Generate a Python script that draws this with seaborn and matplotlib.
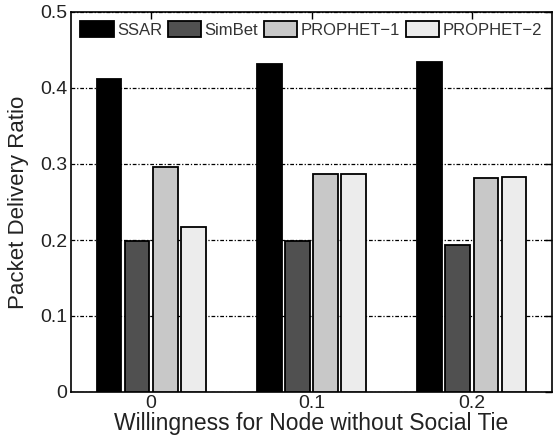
import matplotlib
matplotlib.use("Agg")
import matplotlib.pyplot as plt
import seaborn as sns
import pandas as pd

categories = ["0", "0.1", "0.2"]
methods = ["SSAR", "SimBet", "PROPHET\u22121", "PROPHET\u22122"]
ssar = [0.412, 0.432, 0.434]
simbet = [0.199, 0.199, 0.193]
prophet1 = [0.296, 0.287, 0.282]
prophet2 = [0.217, 0.287, 0.283]
yticks = [0, 0.1, 0.2, 0.3, 0.4, 0.5]
ytick_labels = ["0", "0.1", "0.2", "0.3", "0.4", "0.5"]

rows = []
for m, vals in zip(methods, [ssar, simbet, prophet1, prophet2]):
    for c, v in zip(categories, vals):
        rows.append({"Willingness": c, "Method": m, "Ratio": v})
df = pd.DataFrame(rows)

sns.set_style("white")
plt.rcParams["font.family"] = ["Liberation Sans", "DejaVu Sans"]

palette = ["#000000", "#505050", "#c8c8c8", "#ececec"]

fig = plt.figure(figsize=(5.53, 4.43), dpi=100)
ax = fig.add_axes([71 / 553, 1 - 392 / 443, (552 - 71) / 553, (392 - 12) / 443])

sns.barplot(data=df, x="Willingness", y="Ratio", hue="Method", order=categories,
            hue_order=methods, palette=palette, width=0.7, gap=0.12,
            edgecolor="black", linewidth=1.3, saturation=1, ax=ax, zorder=3)

ax.set_xlim(-0.5, 2.5)
ax.set_ylim(0, 0.5)
ax.set_yticks(yticks)
ax.set_yticklabels(ytick_labels)
ax.yaxis.grid(True, linestyle=(0, (3, 1.5, 1, 1.5)), color="black", linewidth=0.9, zorder=0)
ax.xaxis.grid(False)
ax.set_axisbelow(True)

ax.tick_params(axis="both", direction="in", length=5, width=1, top=True, right=True,
               labelsize=14, colors="black", labelcolor="#222222", pad=2.5)
for s in ax.spines.values():
    s.set_visible(True)
    s.set_color("black")
    s.set_linewidth(1.2)

ax.set_xlabel("Willingness for Node without Social Tie", fontsize=16.5, color="#222222", labelpad=0)
ax.set_ylabel("Packet Delivery Ratio", fontsize=16, color="#222222", labelpad=8)

leg = ax.legend(loc="upper left", bbox_to_anchor=(0.0, 1.0), ncol=4, frameon=False,
                fontsize=12, handlelength=2.0, handleheight=1.05, handletextpad=0.2,
                columnspacing=0.35, borderaxespad=0.3, borderpad=0.25)
for t in leg.get_texts():
    t.set_color("#333333")

fig.savefig("out.png", dpi=100)
